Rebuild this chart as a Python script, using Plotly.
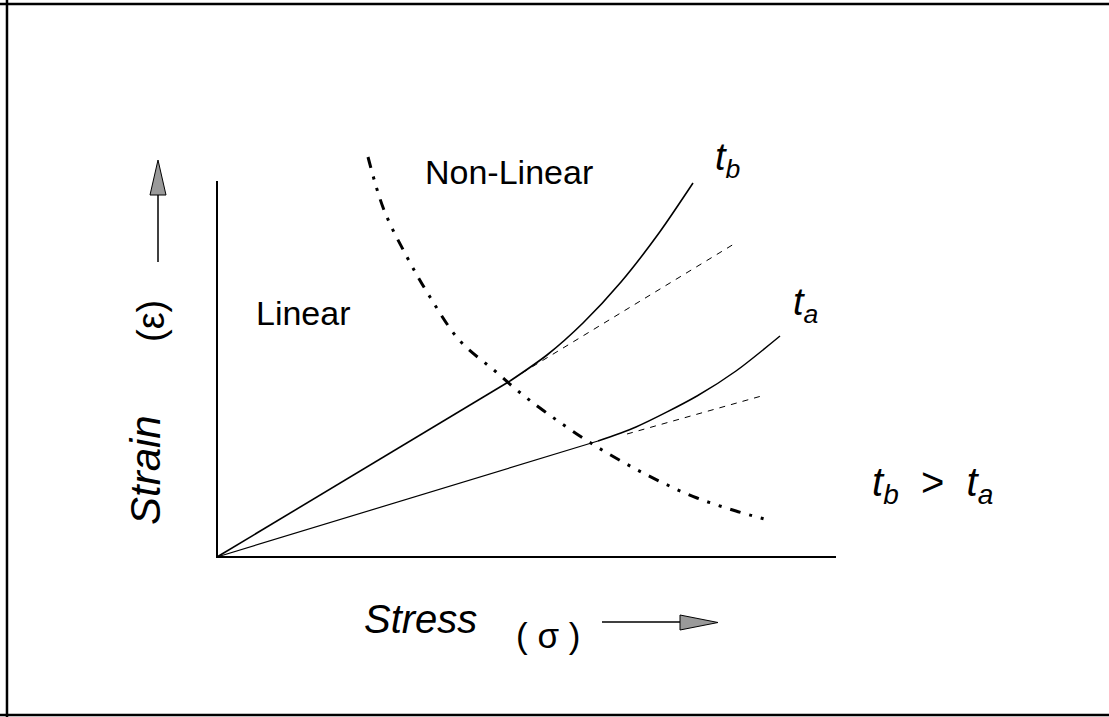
import plotly.graph_objects as go

# stress / strain values (arbitrary units, origin at the axes corner)
tb_x = [0.0, 2.93, 3.30, 3.66, 4.04, 4.42, 4.76]
tb_y = [0.0, 1.76, 2.02, 2.34, 2.75, 3.24, 3.74]

tb_lin_x = [3.05, 5.17]
tb_lin_y = [1.84, 3.13]

ta_x = [0.0, 3.81, 4.19, 4.80, 5.19, 5.63]
ta_y = [0.0, 1.16, 1.30, 1.61, 1.86, 2.21]

ta_lin_x = [4.10, 5.48]
ta_lin_y = [1.23, 1.62]

limit_x = [1.51, 1.67, 1.90, 2.13, 2.43, 2.78, 3.01, 3.27, 3.66, 4.04, 4.42, 4.80, 5.19, 5.51]
limit_y = [4.00, 3.47, 3.00, 2.60, 2.16, 1.86, 1.66, 1.46, 1.19, 0.96, 0.76, 0.59, 0.46, 0.37]

x_max = 6.19
y_max = 3.76

font = "Liberation Sans, Arial, sans-serif"

fig = go.Figure()

# axes
fig.add_trace(go.Scatter(x=[0, 0, x_max], y=[y_max, 0, 0], mode="lines",
                         line=dict(color="black", width=2)))

fig.add_trace(go.Scatter(x=tb_x[:2], y=tb_y[:2], mode="lines",
                         line=dict(color="black", width=1.6)))
fig.add_trace(go.Scatter(x=tb_x[1:], y=tb_y[1:], mode="lines", line_shape="spline",
                         line=dict(color="black", width=1.6, smoothing=0.8)))
fig.add_trace(go.Scatter(x=ta_x[:2], y=ta_y[:2], mode="lines",
                         line=dict(color="black", width=1.2)))
fig.add_trace(go.Scatter(x=ta_x[1:], y=ta_y[1:], mode="lines", line_shape="spline",
                         line=dict(color="black", width=1.5, smoothing=0.8)))
fig.add_trace(go.Scatter(x=tb_lin_x, y=tb_lin_y, mode="lines",
                         line=dict(color="black", width=1, dash="6px,6px")))
fig.add_trace(go.Scatter(x=ta_lin_x, y=ta_lin_y, mode="lines",
                         line=dict(color="black", width=1, dash="6px,6px")))
fig.add_trace(go.Scatter(x=limit_x, y=limit_y, mode="lines", line_shape="spline",
                         line=dict(color="black", width=3,
                                   dash="11px,9px,3px,9px,3px,9px")))

# arrows next to the axis titles
arrow_fill = "#9a9a9a"
fig.add_shape(type="line", x0=-0.59, y0=2.95, x1=-0.59, y1=3.62,
              line=dict(color="black", width=1.5))
fig.add_shape(type="path", path="M -0.67 3.62 L -0.51 3.62 L -0.59 3.97 Z",
              fillcolor=arrow_fill, line=dict(color="black", width=1))
fig.add_shape(type="line", x0=3.85, y0=-0.65, x1=4.63, y1=-0.65,
              line=dict(color="black", width=1.5))
fig.add_shape(type="path", path="M 4.63 -0.58 L 4.63 -0.73 L 5.01 -0.655 Z",
              fillcolor=arrow_fill, line=dict(color="black", width=1))

# border of the scanned figure
for x0, y0, x1, y1 in [(0, 0.9944, 1, 0.9944), (0.0063, 0, 0.0063, 1), (0, 0.0028, 1, 0.0028)]:
    fig.add_shape(type="line", xref="paper", yref="paper", x0=x0, y0=y0, x1=x1, y1=y1,
                  line=dict(color="black", width=2.5))

def label(text, x, y, size, angle=0):
    fig.add_annotation(x=x, y=y, text=text, showarrow=False, textangle=angle,
                       font=dict(family=font, size=size, color="black"))

label("Non-Linear", 2.92, 3.85, 34)
label("Linear", 0.86, 2.44, 34)
label("<i>t</i><sub><i>b</i></sub>", 5.10, 3.97, 38)
label("<i>t</i><sub><i>a</i></sub>", 5.88, 2.52, 38)
label("<i>t</i><sub><i>b</i></sub>  &gt;  <i>t</i><sub><i>a</i></sub>", 7.15, 0.72, 40)
label("<i>Stress</i>", 2.03, -0.62, 40)
label("( σ )", 3.31, -0.78, 35)
label("<i>Strain</i>", -0.72, 0.87, 42, angle=-90)
label("(ε)", -0.66, 2.36, 38, angle=-90)

fig.update_layout(
    width=1109, height=717,
    margin=dict(l=0, r=0, t=0, b=0),
    paper_bgcolor="white", plot_bgcolor="white",
    showlegend=False,
    xaxis=dict(range=[-2.17, 8.92], visible=False, fixedrange=True),
    yaxis=dict(range=[-1.60, 5.57], visible=False, fixedrange=True),
)

fig.write_html("out.html", config={"displayModeBar": False},
               post_script="document.body.style.margin = '0px';")
